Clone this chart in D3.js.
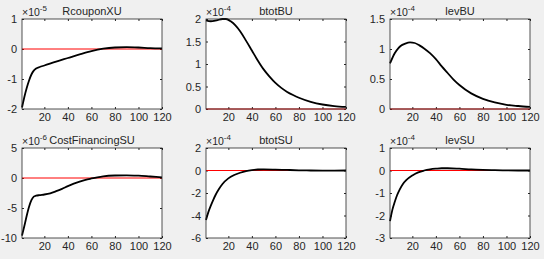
<!DOCTYPE html>
<html>
<head>
<meta charset="utf-8">
<script src="https://cdn.jsdelivr.net/npm/d3@7"></script>
<style>
  body { margin: 0; background: #f0f0f0; }
  text { font-family: "Liberation Sans", Arial, Helvetica, sans-serif; fill: #262626; }
</style>
</head>
<body>
<svg id="fig" width="544" height="259"></svg>
<script>
// impulse responses, values in units of the panel exponent
var xRcoupon = [1, 3, 5, 7, 9, 11, 13, 16, 20, 30, 40, 50, 60, 70, 80, 90, 100, 110, 120]
var yRcoupon = [-1.95, -1.6, -1.3, -1.05, -0.85, -0.72, -0.65, -0.6, -0.55, -0.42, -0.3, -0.18, -0.07, 0.01, 0.05, 0.06, 0.05, 0.03, 0.02]

var xBtotB = [1, 5, 10, 15, 18, 22, 26, 30, 35, 40, 45, 50, 55, 60, 65, 70, 75, 80, 90, 100, 110, 120]
var yBtotB = [1.97, 1.95, 1.97, 2.0, 2.0, 1.95, 1.86, 1.73, 1.52, 1.3, 1.08, 0.88, 0.72, 0.58, 0.47, 0.38, 0.31, 0.25, 0.16, 0.1, 0.065, 0.045]

var xLevB = [1, 3, 5, 8, 10, 14, 18, 22, 26, 30, 35, 40, 45, 50, 55, 60, 70, 80, 90, 100, 110, 120]
var yLevB = [0.76, 0.85, 0.93, 1.01, 1.05, 1.09, 1.11, 1.1, 1.06, 1.01, 0.93, 0.83, 0.71, 0.6, 0.49, 0.4, 0.26, 0.17, 0.11, 0.07, 0.05, 0.035]

var xCostFin = [1, 3, 5, 7, 9, 11, 13, 16, 20, 25, 30, 35, 40, 45, 50, 55, 60, 65, 70, 80, 90, 100, 110, 120]
var yCostFin = [-9.6, -8.0, -6.3, -4.8, -3.7, -3.1, -2.95, -2.85, -2.75, -2.55, -2.2, -1.8, -1.35, -0.95, -0.6, -0.3, -0.08, 0.12, 0.28, 0.42, 0.45, 0.38, 0.25, 0.12]

var xBtotS = [1, 3, 5, 7, 9, 12, 15, 20, 25, 30, 35, 40, 45, 50, 60, 70, 80, 90, 100, 110, 120]
var yBtotS = [-4.4, -3.7, -3.15, -2.65, -2.2, -1.65, -1.2, -0.7, -0.4, -0.2, -0.05, 0.04, 0.09, 0.1, 0.08, 0.05, 0.02, 0.0, -0.01, -0.01, 0]

var xLevS = [1, 3, 5, 7, 9, 12, 15, 20, 25, 30, 35, 40, 45, 50, 60, 70, 80, 90, 100, 110, 120]
var yLevS = [-2.25, -1.75, -1.4, -1.1, -0.87, -0.6, -0.42, -0.22, -0.08, 0.0, 0.05, 0.08, 0.1, 0.1, 0.08, 0.05, 0.03, 0.015, 0.005, 0, 0]

var titles = ["RcouponXU", "btotBU", "levBU", "CostFinancingSU", "btotSU", "levSU"]
var exponents = ["-5", "-4", "-4", "-6", "-4", "-4"]
var yDomains = [[-2, 1], [0, 2], [0, 1.5], [-10, 5], [-6, 2], [-3, 1]]
var yTicks = [[-2, -1, 0, 1], [0, 0.5, 1, 1.5, 2], [0, 0.5, 1, 1.5], [-10, -5, 0, 5], [-6, -4, -2, 0, 2], [-3, -2, -1, 0, 1]]
var xTicks = [20, 40, 60, 80, 100, 120]

var series = [
    [xRcoupon, yRcoupon], [xBtotB, yBtotB], [xLevB, yLevB],
    [xCostFin, yCostFin], [xBtotS, yBtotS], [xLevS, yLevS]
]

var colLeft = [22, 206, 390]
var rowTop = [19, 148]
var axW = 140
var axH = 90
var tick = 2

var svg = d3.select("#fig")

titles.forEach(function(title, i) {
    var left = colLeft[i % 3]
    var top = rowTop[Math.floor(i / 3)]
    var g = svg.append("g").attr("transform", "translate(" + left + "," + top + ")")

    var x = d3.scaleLinear().domain([1, 120]).range([0, axW])
    var y = d3.scaleLinear().domain(yDomains[i]).range([axH, 0])

    g.append("rect")
        .attr("width", axW).attr("height", axH)
        .attr("fill", "white")

    var fmt = function(d) { return String(d) }

    g.append("g").attr("class", "axis")
        .attr("transform", "translate(0," + axH + ")")
        .call(d3.axisBottom(x).tickValues(xTicks).tickSize(-tick).tickSizeOuter(0).tickPadding(4).tickFormat(fmt))
    g.append("g").attr("class", "axis")
        .call(d3.axisTop(x).tickValues(xTicks).tickSize(-tick).tickSizeOuter(0).tickFormat(""))
    g.append("g").attr("class", "axis")
        .call(d3.axisLeft(y).tickValues(yTicks[i]).tickSize(-tick).tickSizeOuter(0).tickPadding(5).tickFormat(fmt))
    g.append("g").attr("class", "axis")
        .attr("transform", "translate(" + axW + ",0)")
        .call(d3.axisRight(y).tickValues(yTicks[i]).tickSize(-tick).tickSizeOuter(0).tickFormat(""))

    g.selectAll(".axis path").remove()
    g.selectAll(".axis line").attr("stroke", "#262626")
    g.selectAll(".axis text")
        .attr("fill", "#262626")
        .style("font-size", "11px")
        .style("font-family", '"Liberation Sans", Arial, sans-serif')

    // zero reference line
    g.append("line")
        .attr("x1", 0).attr("x2", axW)
        .attr("y1", y(0)).attr("y2", y(0))
        .attr("stroke", "#ff0000").attr("stroke-width", 1)

    var data = series[i][0].map(function(xv, k) { return [xv, series[i][1][k]] })
    var line = d3.line()
        .x(function(d) { return x(d[0]) })
        .y(function(d) { return y(d[1]) })
        .curve(d3.curveMonotoneX)

    g.append("path")
        .datum(data)
        .attr("d", line)
        .attr("fill", "none")
        .attr("stroke", "black")
        .attr("stroke-width", 1.8)

    g.append("rect")
        .attr("width", axW).attr("height", axH)
        .attr("fill", "none")
        .attr("stroke", "#262626").attr("stroke-width", 0.8)

    g.append("text")
        .attr("x", axW / 2).attr("y", -4)
        .attr("text-anchor", "middle")
        .style("font-size", "11px")
        .text(title)

    var ex = g.append("text")
        .attr("x", 0).attr("y", -3)
        .style("font-size", "10.5px")
    ex.append("tspan").text("\u00d710")
    ex.append("tspan").attr("dy", -5).style("font-size", "8px").text(exponents[i])
})
</script>
</body>
</html>
